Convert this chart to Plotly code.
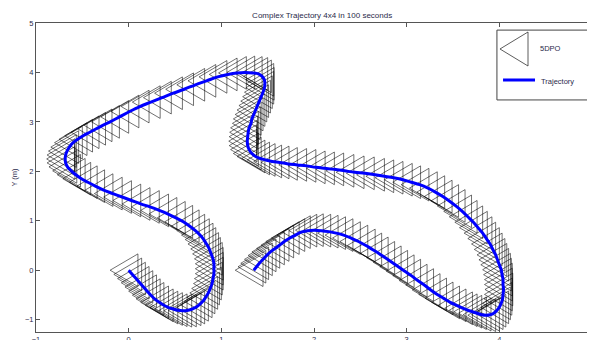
import plotly.graph_objects as go

# Trajectory samples (robot positions)
traj_x = [
    0.00, 0.04, 0.08, 0.12, 0.16, 0.20, 0.24, 0.28, 0.33, 0.38, 0.43, 0.48, 0.53, 0.58, 0.63, 0.68, 0.72,
    0.76, 0.80, 0.83, 0.86, 0.88, 0.90, 0.91, 0.92, 0.92, 0.92, 0.91, 0.89, 0.87, 0.84, 0.81, 0.77, 0.72,
    0.66, 0.59, 0.51, 0.42, 0.33, 0.23, 0.13, 0.03, -0.07, -0.17, -0.27, -0.36, -0.44, -0.51, -0.57, -0.62,
    -0.66, -0.68, -0.685, -0.68, -0.665, -0.64, -0.60, -0.55, -0.49, -0.42, -0.35, -0.28,
    -0.20, -0.10, 0.01, 0.12, 0.24, 0.36, 0.48, 0.60, 0.72, 0.84, 0.96, 1.07, 1.17, 1.26,
    1.34, 1.40, 1.44, 1.465, 1.47, 1.465, 1.45, 1.43, 1.41, 1.39, 1.37, 1.35, 1.33, 1.32, 1.30, 1.29,
    1.285, 1.28, 1.285, 1.30, 1.33, 1.37, 1.42, 1.48,
    1.55, 1.63, 1.72, 1.82, 1.92, 2.02, 2.12, 2.22, 2.33, 2.44, 2.55, 2.66, 2.76, 2.86, 2.96, 3.05, 3.14,
    3.23, 3.31, 3.39, 3.46, 3.53, 3.60, 3.66, 3.72, 3.77, 3.82, 3.86, 3.90, 3.93, 3.96,
    3.98, 4.00, 4.02, 4.03, 4.04, 4.04, 4.045, 4.04, 4.035, 4.02, 4.00, 3.97, 3.94, 3.90, 3.86, 3.81,
    3.76, 3.71, 3.66, 3.61,
    3.54, 3.47, 3.40, 3.33, 3.26, 3.19, 3.12, 3.05, 2.98, 2.91, 2.84, 2.77, 2.70, 2.63, 2.56, 2.48, 2.40,
    2.32, 2.24, 2.16, 2.08, 2.00, 1.93, 1.86,
    1.80, 1.74, 1.68, 1.63, 1.58, 1.53, 1.49, 1.45, 1.41, 1.38, 1.35,
]
traj_y = [
    0.00, -0.085, -0.17, -0.255, -0.34, -0.425, -0.505, -0.58, -0.65, -0.71, -0.755, -0.785, -0.81, -0.82,
    -0.815, -0.79, -0.755, -0.70, -0.63, -0.55, -0.46, -0.37, -0.27, -0.17, -0.07, 0.03, 0.13, 0.23, 0.33,
    0.43, 0.53, 0.62, 0.71, 0.80,
    0.89, 0.98, 1.06, 1.14, 1.21, 1.28, 1.34, 1.41, 1.48, 1.55, 1.62, 1.70, 1.78, 1.85, 1.93, 2.01,
    2.09, 2.17, 2.25, 2.33, 2.41, 2.49, 2.58, 2.65, 2.72, 2.79, 2.86, 2.93,
    3.00, 3.10, 3.21, 3.31, 3.40, 3.49, 3.58, 3.66, 3.75, 3.83, 3.91, 3.96, 3.99, 4.00,
    3.99, 3.97, 3.92, 3.85, 3.77, 3.69, 3.60, 3.51, 3.42, 3.33, 3.24, 3.15, 3.06, 2.97, 2.88, 2.79,
    2.70, 2.61, 2.52, 2.44, 2.36, 2.30, 2.26, 2.23,
    2.20, 2.18, 2.15, 2.13, 2.11, 2.08, 2.06, 2.04, 2.01, 1.98, 1.96, 1.93, 1.90, 1.87, 1.83, 1.78, 1.73,
    1.66, 1.58, 1.49, 1.40, 1.30, 1.19, 1.08, 0.97, 0.86, 0.75, 0.64, 0.53, 0.42, 0.31,
    0.21, 0.11, 0.01, -0.09, -0.19, -0.29, -0.39, -0.49, -0.58, -0.67, -0.75, -0.82, -0.87, -0.90, -0.91,
    -0.90, -0.87, -0.84, -0.81, -0.77,
    -0.71, -0.65, -0.57, -0.49, -0.40, -0.30, -0.21, -0.11, -0.02, 0.07, 0.16, 0.25, 0.34, 0.42, 0.50,
    0.58, 0.65, 0.71, 0.75, 0.78, 0.80, 0.81, 0.80, 0.77,
    0.71, 0.65, 0.58, 0.51, 0.44, 0.37, 0.30, 0.22, 0.14, 0.07, 0.00,
]

x_ticks = [-1, 0, 1, 2, 3, 4, 5]
y_ticks = [-1, 0, 1, 2, 3, 4, 5]

TITLE = "Complex Trajectory 4x4 in 100 seconds"
Y_LABEL = "Y (m)"
ROBOT_NAME = "5DPO"
TRAJ_NAME = "Trajectory"

# Robot body (triangle, apex pointing left) relative to its position
ROBOT_DX = [-0.20, 0.10, 0.10, -0.20]
ROBOT_DY = [0.00, 0.33, -0.33, 0.00]

tri_x, tri_y = [], []
for cx, cy in zip(traj_x, traj_y):
    tri_x += [cx + d for d in ROBOT_DX] + [None]
    tri_y += [cy + d for d in ROBOT_DY] + [None]

FONT = "Liberation Sans, Arial, sans-serif"
TXT = "#2a2a4a"

fig = go.Figure()
fig.add_trace(go.Scatter(x=tri_x, y=tri_y, mode="lines", name=ROBOT_NAME,
                         line=dict(color="rgba(0,0,0,0.8)", width=0.7),
                         hoverinfo="skip", showlegend=False))
fig.add_trace(go.Scatter(x=traj_x, y=traj_y, mode="lines", name=TRAJ_NAME,
                         line=dict(color="#0000ff", width=3, shape="spline", smoothing=1.0),
                         showlegend=False))

axis_common = dict(showline=True, linecolor="#555555", linewidth=1, mirror="ticks",
                   ticks="inside", ticklen=4, tickcolor="#555555", showgrid=False,
                   zeroline=False, automargin=False,
                   tickfont=dict(family=FONT, size=7.5, color=TXT))
fig.update_xaxes(range=[-1, 5], tickvals=x_ticks, **axis_common)
fig.update_yaxes(range=[-1.25, 5], tickvals=y_ticks,
                 title=dict(text=Y_LABEL, font=dict(family=FONT, size=7.5, color=TXT), standoff=6),
                 **axis_common)

# Manual legend (MATLAB style box)
shapes = [
    dict(type="rect", xref="paper", yref="paper", x0=0.829, x1=0.9946, y0=0.751, y1=0.977,
         line=dict(color="#444444", width=1), fillcolor="white", layer="above"),
    dict(type="path", xref="paper", yref="paper",
         path="M 0.8345 0.9159 L 0.8849 0.9709 L 0.8849 0.8608 Z",
         line=dict(color="#333333", width=0.8), layer="above"),
    dict(type="line", xref="paper", yref="paper", x0=0.840, x1=0.8975, y0=0.8155, y1=0.8155,
         line=dict(color="#0000ff", width=3), layer="above"),
]
annotations = [
    dict(text=ROBOT_NAME, xref="paper", yref="paper", x=0.9029, y=0.9159, xanchor="left",
         yanchor="middle", showarrow=False, font=dict(family=FONT, size=7.5, color=TXT)),
    dict(text=TRAJ_NAME, xref="paper", yref="paper", x=0.9047, y=0.812, xanchor="left",
         yanchor="middle", showarrow=False, font=dict(family=FONT, size=7.5, color=TXT)),
]

# The page body has an 8px margin; margins are set so the plot area lands where the reference has it.
fig.update_layout(
    width=595, height=340,
    margin=dict(l=28, r=11, t=15, b=16),
    paper_bgcolor="white", plot_bgcolor="white",
    title=dict(text=TITLE, x=0.528, xanchor="center", y=1 - 7 / 340, yanchor="middle",
               font=dict(family=FONT, size=8, color=TXT)),
    shapes=shapes, annotations=annotations,
    showlegend=False,
)

fig.write_html("out.html")
